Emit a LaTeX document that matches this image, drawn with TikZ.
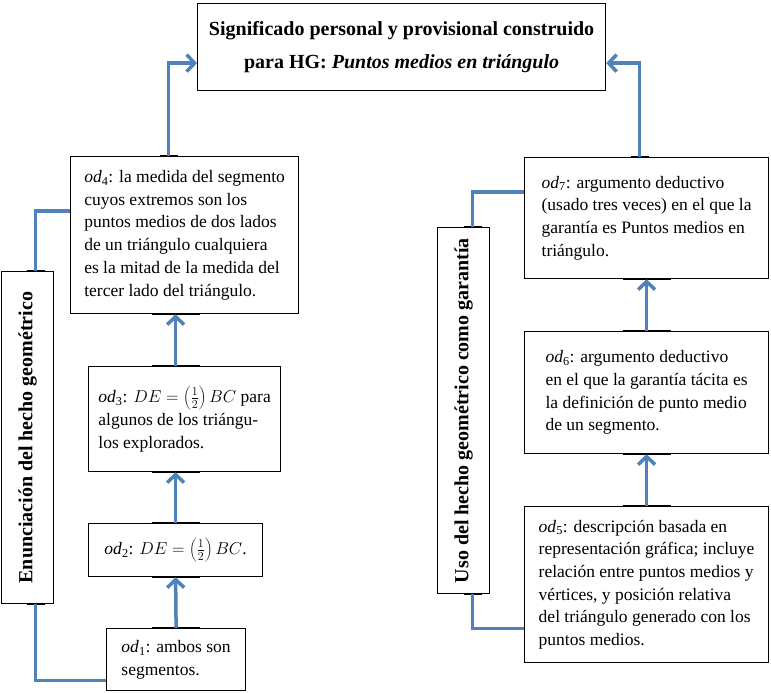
\documentclass[tikz,border=0pt]{standalone}
\usepackage{fontspec}
\setmainfont{Liberation Serif}
\usetikzlibrary{calc, positioning, arrows.meta}
\definecolor{wordblue}{RGB}{79,129,189}

\begin{document}
\begin{tikzpicture}[x=1pt, y=-1pt,
    every node/.style={font=\fontsize{17.5}{22.7}\selectfont},
    odbox/.style={draw, line width=1.2pt, anchor=north west, align=left, inner sep=0pt},
    titlebox/.style={draw, line width=1.2pt, anchor=north west, align=center, inner sep=0pt,
        font=\fontsize{20}{33}\selectfont\bfseries},
    sidebox/.style={draw, line width=1.2pt, anchor=north west, inner sep=0pt,
        font=\fontsize{20}{24}\selectfont\bfseries},
    link/.style={wordblue, line width=3.5pt},
    flow/.style={link, -{Straight Barb[length=8pt, width=17pt]}},
    tickmark/.style={black, line width=2.5pt}]
    \useasboundingbox (0,0) rectangle (771,693);

    % Title
    \node[titlebox, minimum width=408pt, minimum height=87pt] (hg) at (197,3)
        {Significado personal y provisional construido\\ para HG: \textit{Puntos medios en triángulo}};

    % Left column: statement of the fact
    \node[odbox, minimum width=139pt, minimum height=62pt] (od1) at (106,628)
        {\textit{od}\textsubscript{1}: ambos son\\ segmentos.};
    \node[odbox, minimum width=174pt, minimum height=53pt] (od2) at (88,523)
        {\textit{od}\textsubscript{2}: $DE = \left(\frac{1}{2}\right)BC$.};
    \node[odbox, minimum width=192pt, minimum height=105pt] (od3) at (88,366)
        {\textit{od}\textsubscript{3}: $DE = \left(\frac{1}{2}\right)BC$ para\\ algunos de los triángu-\\ los explorados.};
    \node[odbox, minimum width=228pt, minimum height=157pt] (od4) at (70,156)
        {\textit{od}\textsubscript{4}: la medida del segmento\\ cuyos extremos son los\\ puntos medios de dos lados\\
         de un triángulo cualquiera\\ es la mitad de la medida del\\ tercer lado del triángulo.};
    \node[sidebox, minimum width=52pt, minimum height=332pt] (enun) at (1,271)
        {\rotatebox{90}{Enunciación del hecho geométrico}};

    % Right column: use as warrant
    \node[odbox, minimum width=244pt, minimum height=156pt] (od5) at (524,506)
        {\textit{od}\textsubscript{5}: descripción basada en\\ representación gráfica; incluye\\ relación entre puntos medios y\\
         vértices, y posición relativa\\ del triángulo generado con los\\ puntos medios.};
    \node[odbox, minimum width=244pt, minimum height=122pt] (od6) at (524,331)
        {\textit{od}\textsubscript{6}: argumento deductivo\\ en el que la garantía tácita es\\ la definición de punto medio\\ de un segmento.};
    \node[odbox, minimum width=244pt, minimum height=121pt] (od7) at (524,157)
        {\textit{od}\textsubscript{7}: argumento deductivo\\ (usado tres veces) en el que la\\ garantía es Puntos medios en\\ triángulo.};
    \node[sidebox, minimum width=52pt, minimum height=366pt] (uso) at (437,227)
        {\rotatebox{90}{Uso del hecho geométrico como garantía}};

    % Connector ends
    \coordinate (od4top) at ([xshift=-16pt]od4.north);
    \coordinate (od7top) at ([xshift=-7pt]od7.north);
    \coordinate (enuntop) at ([xshift=8pt]enun.north);
    \coordinate (enunbot) at ([xshift=8pt]enun.south);
    \coordinate (usotop) at ([xshift=9pt]uso.north);
    \coordinate (usobot) at ([xshift=9pt]uso.south);
    \coordinate (od3bot) at (od2.north |- od3.south);
    \coordinate (od3top) at (od2.north |- od3.north);
    \coordinate (od4bot) at (od2.north |- od4.south);

    % Connector stubs
    \foreach \p in {od1.north, od2.south, od2.north, od3bot, od3top, od4bot,
                    od5.north, od6.south, od6.north, od7.south}
        \draw[tickmark] ($(\p)+(-24,0)$) -- ($(\p)+(24,0)$);
    \foreach \p in {od4top, od7top, enuntop, enunbot, usotop, usobot}
        \draw[tickmark] ($(\p)+(-9,0)$) -- ($(\p)+(9,0)$);

    % Arrows, left
    \draw[flow] (od1.north) -- (od2.south);
    \draw[flow] (od2.north) -- (od3bot);
    \draw[flow] (od3top) -- (od4bot);
    \draw[link] ([yshift=-21pt]od1.west) -| (enunbot);
    \draw[link] (enuntop) |- ([yshift=24pt]od4.west);
    \draw[flow] (od4top) |- ([yshift=-16pt]hg.west);

    % Arrows, right
    \draw[flow] (od5.north) -- (od6.south);
    \draw[flow] (od6.north) -- (od7.south);
    \draw[link] ([yshift=-44pt]od5.west) -| (usobot);
    \draw[link] (usotop) |- ([yshift=26pt]od7.west);
    \draw[flow] (od7top) |- ([yshift=-16pt]hg.east);
\end{tikzpicture}
\end{document}
